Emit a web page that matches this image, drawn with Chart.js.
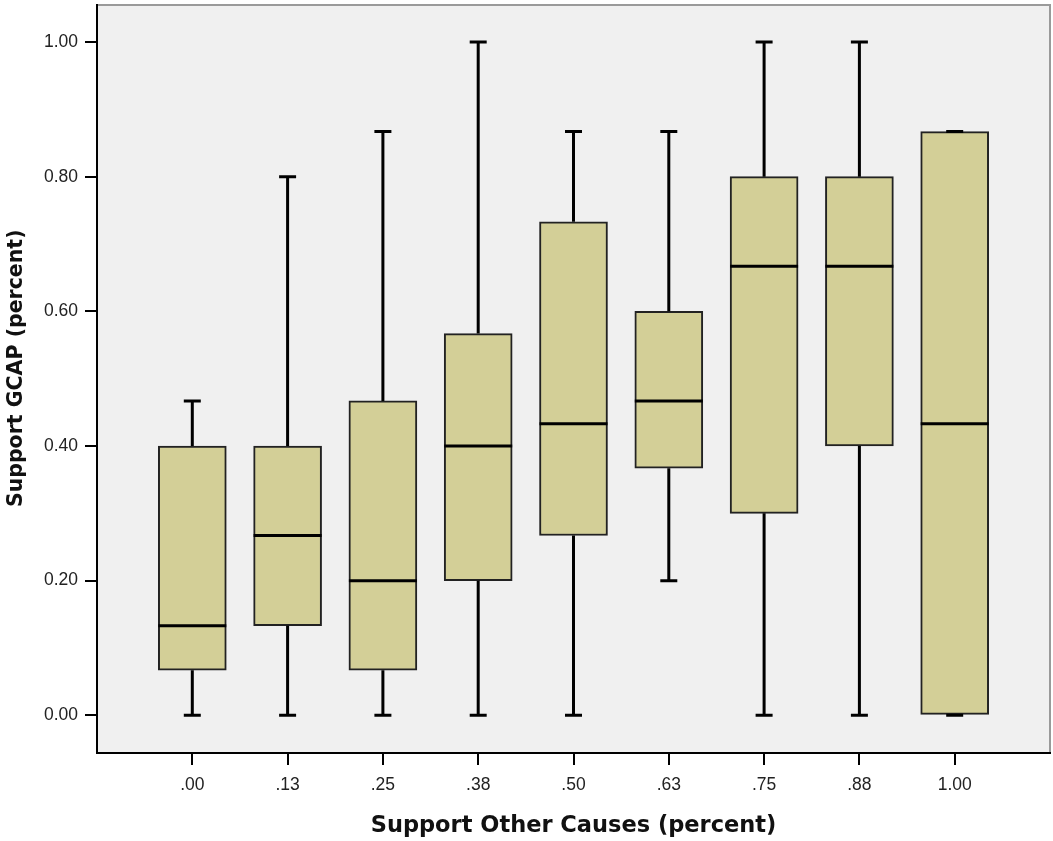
<!DOCTYPE html>
<html>
<head>
<meta charset="utf-8">
<script src="https://cdn.jsdelivr.net/npm/chart.js@4/dist/chart.umd.min.js"></script>
<style>
  html, body { margin: 0; padding: 0; background: #fff; }
  #wrap { width: 1053px; height: 841px; }
</style>
</head>
<body>
<div id="wrap"><canvas id="box-chart"></canvas></div>
<script>
// categories of "Support Other Causes" and the five-number summaries
const categories = ['.00', '.13', '.25', '.38', '.50', '.63', '.75', '.88', '1.00'];
const whiskerMin = [0, 0, 0, 0, 0, 0.20, 0, 0, 0];
const q1 = [0.067, 0.133, 0.067, 0.20, 0.267, 0.367, 0.30, 0.40, 0];
const median = [0.133, 0.267, 0.20, 0.40, 0.433, 0.467, 0.667, 0.667, 0.433];
const q3 = [0.40, 0.40, 0.467, 0.567, 0.733, 0.60, 0.80, 0.80, 0.867];
const whiskerMax = [0.467, 0.80, 0.867, 1.00, 0.867, 0.867, 1.00, 1.00, 0.867];
const yTicks = [0, 0.2, 0.4, 0.6, 0.8, 1.0];

document.addEventListener('DOMContentLoaded', () => {
    const boxData = categories.map((c, i) => ({ x: i + 1, y: [q1[i], q3[i]] }));
    const tickFont = { family: 'Arial, "Liberation Sans", sans-serif', size: 17.5 };

    // grey plot background with the SPSS-style frame
    const plotBackground = {
        id: 'plotBackground',
        beforeDraw(chart) {
            const { ctx, chartArea: a } = chart;
            ctx.save();
            ctx.fillStyle = '#f0f0f0';
            ctx.fillRect(a.left, a.top, a.right - a.left, a.bottom - a.top);
            ctx.strokeStyle = '#9a9a9a';
            ctx.lineWidth = 2;
            ctx.beginPath();
            ctx.moveTo(a.left, a.top);
            ctx.lineTo(a.right, a.top);
            ctx.lineTo(a.right, a.bottom);
            ctx.stroke();
            ctx.restore();
        }
    };

    // whiskers, caps and medians
    const boxExtras = {
        id: 'boxExtras',
        afterDatasetsDraw(chart) {
            const ctx = chart.ctx;
            const xs = chart.scales.x, ys = chart.scales.y;
            const meta = chart.getDatasetMeta(0);
            ctx.save();
            ctx.strokeStyle = '#000';
            ctx.lineWidth = 3;
            ctx.lineCap = 'butt';
            categories.forEach((c, i) => {
                const x = xs.getPixelForValue(i + 1);
                const half = meta.data[i].width / 2;
                const cap = 8.5;
                ctx.beginPath();
                // upper whisker
                if (whiskerMax[i] > q3[i]) {
                    ctx.moveTo(x, ys.getPixelForValue(q3[i]));
                    ctx.lineTo(x, ys.getPixelForValue(whiskerMax[i]));
                }
                ctx.moveTo(x - cap, ys.getPixelForValue(whiskerMax[i]));
                ctx.lineTo(x + cap, ys.getPixelForValue(whiskerMax[i]));
                // lower whisker
                if (whiskerMin[i] < q1[i]) {
                    ctx.moveTo(x, ys.getPixelForValue(q1[i]));
                    ctx.lineTo(x, ys.getPixelForValue(whiskerMin[i]));
                }
                ctx.moveTo(x - cap, ys.getPixelForValue(whiskerMin[i]));
                ctx.lineTo(x + cap, ys.getPixelForValue(whiskerMin[i]));
                // median
                ctx.moveTo(x - half, ys.getPixelForValue(median[i]));
                ctx.lineTo(x + half, ys.getPixelForValue(median[i]));
                ctx.stroke();
            });
            ctx.restore();
        }
    };

    const ctx = document.getElementById('box-chart').getContext('2d');
    new Chart(ctx, {
        type: 'bar',
        data: {
            datasets: [{
                label: 'Support GCAP',
                data: boxData,
                backgroundColor: '#d3cf97',
                borderColor: '#222',
                borderWidth: 2,
                borderSkipped: false,
                barThickness: 68
            }]
        },
        options: {
            responsive: true,
            maintainAspectRatio: false,
            animation: false,
            layout: { padding: { top: 5, right: 3, left: 0, bottom: 0 } },
            plugins: {
                legend: { display: false },
                tooltip: { enabled: false }
            },
            scales: {
                x: {
                    type: 'linear',
                    min: 0,
                    max: 10,
                    offset: false,
                    afterBuildTicks: (axis) => {
                        axis.ticks = categories.map((c, i) => ({ value: i + 1 }));
                    },
                    afterFit: (axis) => {
                        axis.height = 88;
                        axis.paddingLeft = 0;
                        axis.paddingRight = 0;
                    },
                    ticks: {
                        callback: (v) => categories[v - 1],
                        color: '#222',
                        font: tickFont,
                        padding: 10,
                        maxRotation: 0,
                        autoSkip: false
                    },
                    grid: {
                        offset: false,
                        drawOnChartArea: false,
                        color: '#000',
                        lineWidth: 2,
                        tickLength: 12
                    },
                    border: { color: '#000', width: 2 },
                    title: {
                        display: true,
                        text: 'Support Other Causes (percent)',
                        color: '#111',
                        font: { family: '"DejaVu Sans", Verdana, sans-serif', size: 22.5, weight: 'bold' },
                        padding: { top: 4, bottom: 1 }
                    }
                },
                y: {
                    min: -0.056,
                    max: 1.055,
                    afterBuildTicks: (axis) => {
                        axis.ticks = yTicks.map(v => ({ value: v }));
                    },
                    afterFit: (axis) => {
                        axis.width = 97;
                        axis.paddingTop = 0;
                        axis.paddingBottom = 0;
                    },
                    ticks: {
                        callback: (v) => v.toFixed(2),
                        color: '#222',
                        font: tickFont,
                        padding: 7
                    },
                    grid: {
                        drawOnChartArea: false,
                        color: '#000',
                        lineWidth: 2,
                        tickLength: 12
                    },
                    border: { color: '#000', width: 2 },
                    title: {
                        display: true,
                        // leading spaces nudge the centred title up a little, as in the original
                        text: '   Support GCAP (percent)',
                        color: '#111',
                        font: { family: '"DejaVu Sans", Verdana, sans-serif', size: 20.5, weight: 'bold' },
                        padding: { top: 4, bottom: 0 }
                    }
                }
            }
        },
        plugins: [plotBackground, boxExtras]
    });
});
</script>
</body>
</html>
